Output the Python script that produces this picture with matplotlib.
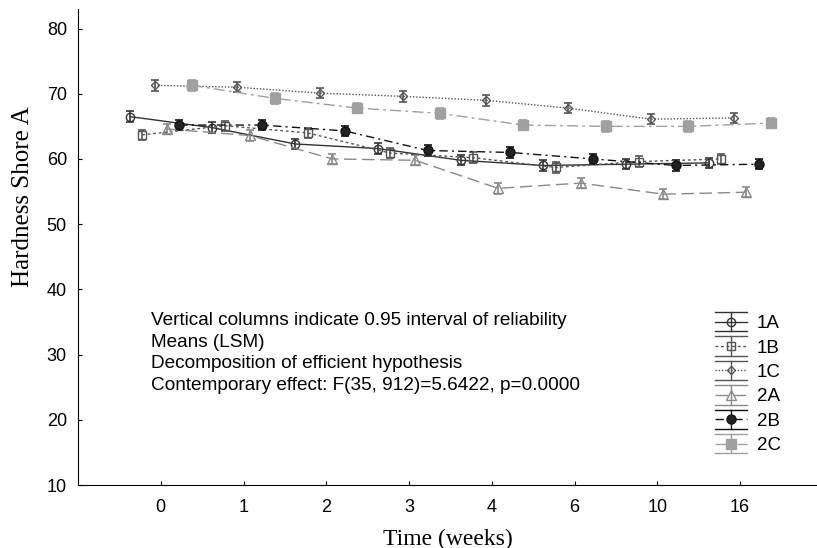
import numpy as np
import matplotlib
matplotlib.use('Agg')
from matplotlib import pyplot as plt
from matplotlib.lines import Line2D
from matplotlib.legend_handler import HandlerBase

plt.rcParams['font.family'] = ['Liberation Sans', 'DejaVu Sans']

weeks = ['0', '1', '2', '3', '4', '6', '10', '16']
groups = ['1A', '1B', '1C', '2A', '2B', '2C']

hardness = {
	'1A': [66.5, 64.8, 62.3, 61.6, 59.8, 59.0, 59.2, 59.4],
	'1B': [63.7, 65.1, 64.0, 60.9, 60.2, 58.7, 59.6, 60.0],
	'1C': [71.3, 71.0, 70.1, 69.6, 69.0, 67.8, 66.1, 66.3],
	'2A': [64.6, 63.6, 60.0, 59.8, 55.5, 56.3, 54.6, 54.9],
	'2B': [65.2, 65.2, 64.3, 61.3, 61.0, 60.0, 59.0, 59.2],
	'2C': [71.3, 69.3, 67.8, 67.0, 65.2, 65.0, 65.0, 65.5],
}
ci = {'1A': 0.8, '1B': 0.8, '1C': 0.8, '2A': 0.8, '2B': 0.8, '2C': 0.8}

# line style, marker, face colour, edge colour
styles = {
	'1A': dict(ls='-', marker='o', color='#333333', mfc='none', ms=6),
	'1B': dict(ls=(0, (2, 2)), marker='s', color='#555555', mfc='none', ms=6),
	'1C': dict(ls=(0, (1, 1.3)), marker='D', color='#555555', mfc='none', ms=4.5),
	'2A': dict(ls=(0, (9, 4)), marker='^', color='#8a8a8a', mfc='none', ms=6.5),
	'2B': dict(ls=(0, (6, 3, 1.5, 3)), marker='o', color='#111111', mfc='#222222', ms=6.5),
	'2C': dict(ls=(0, (8, 3, 2, 3)), marker='s', color='#a0a0a0', mfc='#a0a0a0', ms=6.5),
}
offsets = np.linspace(-0.375, 0.375, len(groups))


class ErrHandler(HandlerBase):
	# statistica style legend glyph: line, marker, bar and wide caps
	def create_artists(self, legend, orig, xd, yd, w, h, fontsize, trans):
		st = styles[orig.get_label()]
		x0, x1 = -xd, -xd + w
		xm = (x0 + x1) / 2
		yc = (h - yd) / 2
		d = 7
		c = st['color']
		arts = [
			Line2D([x0, x1], [yc, yc], ls=st['ls'], color=c, lw=1),
			Line2D([xm, xm], [yc - d, yc + d], color=c, lw=1),
			Line2D([x0, x1], [yc + d, yc + d], color=c, lw=1),
			Line2D([x0, x1], [yc - d, yc - d], color=c, lw=1),
			Line2D([xm], [yc], ls='none', marker=st['marker'], color=c,
				mfc=st['mfc'], ms=st['ms']),
		]
		for a in arts:
			a.set_transform(trans)
		return arts


fig = plt.figure(figsize=(8.17, 5.48), dpi=100)
ax = fig.add_axes([78/817, 63/548, 1 - 78/817, (485 - 9)/548])

x = np.arange(len(weeks))
handles = []
for g, off in zip(groups, offsets):
	st = styles[g]
	ax.errorbar(x + off, hardness[g], yerr=ci[g], ls=st['ls'], color=st['color'],
		marker=st['marker'], mfc=st['mfc'], mec=st['color'], ms=st['ms'],
		lw=1, elinewidth=1.2, capsize=3, capthick=1.2)
	handles.append(Line2D([], [], label=g))

ax.set_xlim(-1, 7.93)
ax.set_ylim(10, 83)
ax.set_xticks(x)
ax.set_xticklabels(weeks)
ax.set_yticks(np.arange(10, 81, 10))
ax.tick_params(direction='in', length=3, labelsize=13)
ax.tick_params(axis='x', pad=10)
ax.tick_params(axis='y', pad=8)
for s in ['top', 'right']:
	ax.spines[s].set_visible(False)

ax.set_xlabel('Time (weeks)', family='Liberation Serif', fontsize=17, labelpad=9)
ax.set_ylabel('Hardness Shore A', family='Liberation Serif', fontsize=18)
ax.yaxis.set_label_coords(-0.06, 0.605)

note = ['Vertical columns indicate 0.95 interval of reliability',
	'Means (LSM)',
	'Decomposition of efficient hypothesis',
	'Contemporary effect: F(35, 912)=5.6422, p=0.0000']
fig.text(151/817, 1 - 312/548, '\n'.join(note), fontsize=13.7, va='top', linespacing=1.35)

fig.legend(handles=handles, handler_map={Line2D: ErrHandler()},
	loc='upper left', bbox_to_anchor=(715/817, 1 - 315/548), frameon=False,
	fontsize=13.5, handlelength=1.7, handletextpad=0.53, labelspacing=0.39,
	borderpad=0, borderaxespad=0)

plt.savefig('out.png', dpi=100)
